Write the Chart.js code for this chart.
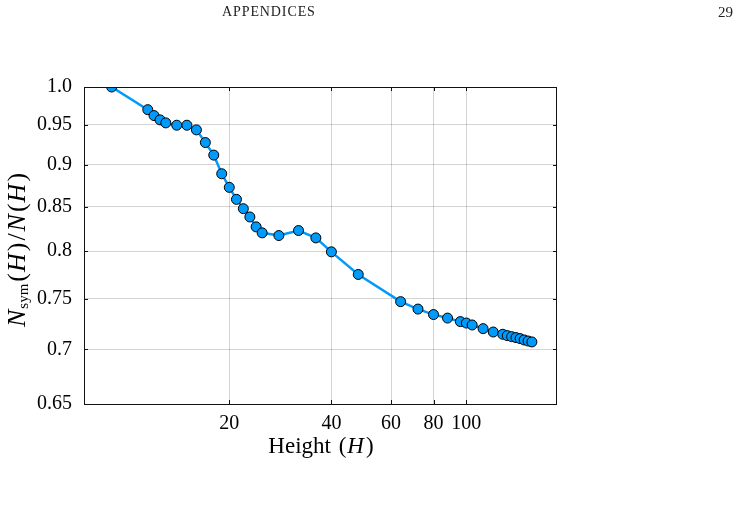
<!DOCTYPE html>
<html>
<head>
<meta charset="utf-8">
<script src="https://cdn.jsdelivr.net/npm/chart.js@4"></script>
<style>
  html, body { margin:0; padding:0; background:#fff; }
  #wrap { position:relative; width:739px; height:519px; }
  .hdr { position:absolute; font-family:'Liberation Serif',serif; color:#222; }
</style>
</head>
<body>
<div id="wrap">
  <div class="hdr" style="left:222px;top:4px;font-size:14px;letter-spacing:0.9px;">APPENDICES</div>
  <div class="hdr" style="left:718px;top:4px;font-size:15px;">29</div>
  <canvas id="c" width="739" height="519"></canvas>
</div>
<script>
// ---- data ----
var HEIGHTS = [9, 11.5, 12, 12.5, 13, 14, 15, 16, 17, 18, 19, 20, 21, 22, 23, 24, 25, 28, 32, 36,
               40, 48, 64, 72, 80, 88, 96, 100, 104, 112, 120, 128, 132, 136, 140, 144, 148, 152, 156];
var RATIOS  = [1.0, 0.9697, 0.9619, 0.9563, 0.9524, 0.9494, 0.9494, 0.9434, 0.9273, 0.9116,
               0.8888, 0.8725, 0.8584, 0.8476, 0.8381, 0.8269, 0.8202, 0.8172, 0.8228, 0.8146,
               0.7993, 0.7751, 0.7470, 0.7395, 0.7340, 0.7305, 0.7270, 0.7256, 0.7237, 0.7201,
               0.7168, 0.7146, 0.7133, 0.7123, 0.7114, 0.7104, 0.7091, 0.7081, 0.7072];
var X_TICKS = [20, 40, 60, 80, 100];
var X_TICK_LABELS = ['20', '40', '60', '80', '100'];
var Y_TICKS = [0.65, 0.7, 0.75, 0.8, 0.85, 0.9, 0.95, 1.0];
var Y_TICK_LABELS = ['0.65', '0.7', '0.75', '0.8', '0.85', '0.9', '0.95', '1.0'];

var BLUE = 'rgb(0,154,250)';
var SERIF = "'Liberation Serif', serif";

// draws a run of text pieces (mixed italic / subscripts) centred on (cx, cy)
function drawRun(ctx, parts, cx, cy, angle) {
  ctx.save();
  ctx.translate(cx, cy);
  ctx.rotate(angle);
  ctx.textBaseline = 'middle';
  ctx.textAlign = 'left';
  ctx.fillStyle = '#000';
  var total = 0;
  parts.forEach(function(p) { ctx.font = p.f; total += ctx.measureText(p.t).width + (p.gap || 0); });
  var x = -total / 2;
  parts.forEach(function(p) {
    ctx.font = p.f;
    ctx.fillText(p.t, x, p.dy || 0);
    x += ctx.measureText(p.t).width + (p.gap || 0);
  });
  ctx.restore();
}

var framePlugin = {
  id: 'frame',
  afterDraw: function(chart) {
    var ctx = chart.ctx, a = chart.chartArea;
    var xs = chart.scales.x, ys = chart.scales.y;
    ctx.save();
    ctx.strokeStyle = '#111';
    ctx.lineWidth = 1;
    ctx.strokeRect(a.left + 0.5, a.top + 0.5, a.right - a.left - 1, a.bottom - a.top);
    ctx.beginPath();
    X_TICKS.forEach(function(v) {
      var px = Math.round(xs.getPixelForValue(v)) + 0.5;
      ctx.moveTo(px, a.bottom); ctx.lineTo(px, a.bottom - 4);
      ctx.moveTo(px, a.top); ctx.lineTo(px, a.top + 4);
    });
    Y_TICKS.forEach(function(v) {
      var py = Math.round(ys.getPixelForValue(v)) + 0.5;
      ctx.moveTo(a.left, py); ctx.lineTo(a.left + 4, py);
      ctx.moveTo(a.right, py); ctx.lineTo(a.right - 4, py);
    });
    ctx.stroke();
    ctx.restore();

    var big = '23px ' + SERIF, bigI = 'italic 23px ' + SERIF, sub = '15px ' + SERIF;
    drawRun(ctx, [
      { t:'Height ', f:big, gap:2 }, { t:'(', f:big, gap:1 }, { t:'H', f:bigI, gap:2 }, { t:')', f:big }
    ], 321, 447, 0);
    var r = '26px ' + SERIF, it = 'italic 26px ' + SERIF;
    drawRun(ctx, [
      { t:'N', f:it, gap:1 }, { t:'sym', f:sub, dy:6, gap:2 },
      { t:'(', f:r, gap:1 }, { t:'H', f:it, gap:2 },
      { t:')', f:r, gap:2 }, { t:'/', f:r, gap:2 },
      { t:'N', f:it, gap:2 }, { t:'(', f:r, gap:1 },
      { t:'H', f:it, gap:2 }, { t:')', f:r }
    ], 18, 250, -Math.PI / 2);
  }
};

new Chart(document.getElementById('c'), {
  type: 'line',
  data: {
    datasets: [{
      data: HEIGHTS.map(function(h, i) { return { x: h, y: RATIOS[i] }; }),
      borderColor: BLUE,
      borderWidth: 2.5,
      backgroundColor: BLUE,
      pointRadius: 5,
      pointBorderColor: '#000',
      pointBorderWidth: 1,
      tension: 0
    }]
  },
  options: {
    responsive: false,
    animation: false,
    layout: { padding: { left: 0, right: 182, top: 87, bottom: 85 } },
    plugins: { legend: { display: false }, tooltip: { enabled: false } },
    scales: {
      x: {
        type: 'logarithmic', min: 7.46, max: 185,
        afterBuildTicks: function(s) { s.ticks = X_TICKS.map(function(v) { return { value: v }; }); },
        afterFit: function(s) { s.height = 30; },
        grid: { color: 'rgba(0,0,0,0.17)', drawTicks: false },
        border: { display: false },
        ticks: {
          padding: 8, color: '#000', maxRotation: 0, autoSkip: false,
          font: { family: SERIF, size: 20 },
          callback: function(v) { var i = X_TICKS.indexOf(v); return i < 0 ? '' : X_TICK_LABELS[i]; }
        }
      },
      y: {
        type: 'logarithmic', min: 0.65, max: 1.0,
        afterBuildTicks: function(s) { s.ticks = Y_TICKS.map(function(v) { return { value: v }; }); },
        afterFit: function(s) { s.width = 84; },
        grid: { color: 'rgba(0,0,0,0.17)', drawTicks: false },
        border: { display: false },
        ticks: {
          padding: 12, color: '#000', autoSkip: false,
          font: { family: SERIF, size: 20 },
          callback: function(v) { var i = Y_TICKS.indexOf(v); return i < 0 ? '' : Y_TICK_LABELS[i]; }
        }
      }
    }
  },
  plugins: [framePlugin]
});
</script>
</body>
</html>
